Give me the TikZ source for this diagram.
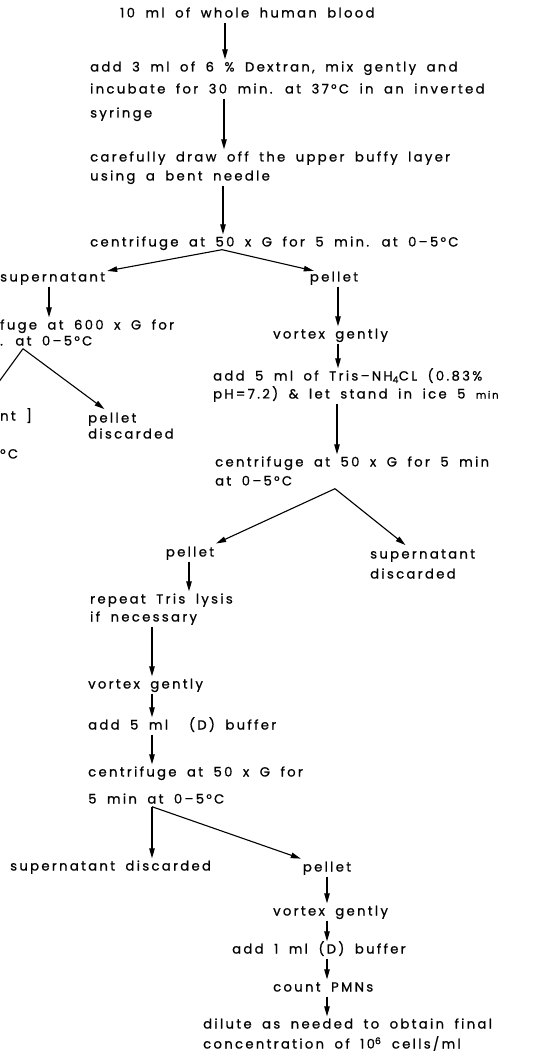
\documentclass[tikz,border=0pt]{standalone}
\usepackage{fontspec}
\setmainfont[LetterSpace=17.5,WordSpace=1.8,FakeBold=0.8]{Poppins}
\usepackage{tikz}
\usetikzlibrary{calc, arrows.meta}

\begin{document}
\begin{tikzpicture}[x=1pt, y=-1pt,
    txt/.style={anchor=west, inner sep=0pt, text height=10pt, text depth=3pt, font=\fontsize{13.2}{14}\selectfont},
    mid/.style={txt, anchor=center},
    arr/.style={-{Triangle[length=10pt,width=5.5pt]}, line width=1.1pt, shorten <=2pt, shorten >=2pt},
    lne/.style={line width=1.1pt}]
\useasboundingbox (0,0) rectangle (555,1056);

% main column
\node[txt] (blood) at (120,14) {10 ml of whole human blood};
\node[txt] (dextran1) at (90,68) {add 3 ml of 6 \% Dextran, mix gently and};
\node[txt] (dextran2) at (90,90) {incubate for 30 min. at 37°C in an inverted};
\node[txt] (dextran3) at (90,114) {syringe};
\node[txt] (buffy1) at (90,158) {carefully draw off the upper buffy layer};
\node[txt] (buffy2) at (90,177) {using a bent needle};
\node[txt] (spinA) at (90,243) {centrifuge at 50 x G for 5 min. at 0–5°C};

\draw[arr] (blood.south -| 225,0) -- (dextran1.north -| 225,0);
\draw[arr] (dextran2.south -| 224,0) -- (buffy1.north -| 224,0);
\draw[arr] (buffy2.south -| 223,0) -- (spinA.north -| 223,0);

% first split
\coordinate (forkA) at (spinA.south -| 222,0);
\node[txt] (supA) at (0,278) {supernatant};
\node[mid] (pelA) at (334,278) {pellet};
\draw[arr, shorten <=0pt] (forkA) -- (supA.north east);
\draw[arr, shorten <=0pt] (forkA) -- ($(pelA.north west)+(6,0)$);

% left branch (cut off)
\node[txt] (spinB1) at (0,326) {fuge at 600 x G for};
\node[txt] (spinB2) at (0,342) {. at 0–5°C};
\draw[arr] (supA.south -| 49,0) -- (spinB1.north -| 49,0);
\coordinate (forkB) at (spinB2.south -| 23,0);
\node[txt] (supB) at (0,417) {nt ]};
\node[txt] (pelB1) at (88,419) {pellet};
\node[txt] (pelB2) at (88,435) {discarded};
\node[txt] (tempB) at (0,455) {°C};
\draw[lne] (forkB) -- ++(-32,44);
\draw[arr, shorten <=0pt] (forkB) -- ($(pelB1.north west)+(18,-2)$);

% right branch
\node[txt] (vortexA) at (273,335) {vortex gently};
\node[txt] (tris1) at (213,377) {add 5 ml of Tris–NH\textsubscript{4}CL (0.83\%};
\node[txt] (tris2) at (213,395) {pH=7.2) \& let stand in ice 5 {\fontsize{10}{11}\selectfont min}};
\node[txt] (spinC1) at (215,463) {centrifuge at 50 x G for 5 min};
\node[txt] (spinC2) at (215,482) {at 0–5°C};
\draw[arr] (pelA.south -| 338,0) -- (vortexA.north -| 338,0);
\draw[arr] (vortexA.south -| 338,0) -- (tris1.north -| 338,0);
\draw[arr] (tris2.south -| 337,0) -- (spinC1.north -| 337,0);

% second split
\coordinate (forkC) at (spinC2.south -| 335,0);
\node[mid] (pelC) at (190,553) {pellet};
\node[txt] (supC1) at (370,555) {supernatant};
\node[txt] (supC2) at (370,575) {discarded};
\draw[arr, shorten <=0pt] (forkC) -- ($(pelC.north east)+(0,-2)$);
\draw[arr, shorten <=0pt] (forkC) -- ($(supC1.north west)+(37,-2)$);

\node[txt] (lysis1) at (90,600) {repeat Tris lysis};
\node[txt] (lysis2) at (90,618) {if necessary};
\node[txt] (vortexB) at (88,685) {vortex gently};
\node[txt] (bufferD) at (88,726) {add 5 ml \ (D) buffer};
\node[txt] (spinD1) at (88,773) {centrifuge at 50 x G for};
\node[txt] (spinD2) at (88,800) {5 min at 0–5°C};
\draw[arr] (pelC.south -| 189,0) -- (lysis1.north -| 189,0);
\draw[arr] (lysis2.south -| 152,0) -- (vortexB.north -| 152,0);
\draw[arr] (vortexB.south -| 152,0) -- (bufferD.north -| 152,0);
\draw[arr] (bufferD.south -| 152,0) -- (spinD1.north -| 152,0);

% third split
\coordinate (forkD) at (spinD2.south -| 152,0);
\node[txt] (supD) at (10,867) {supernatant discarded};
\node[mid] (pelD) at (327,868) {pellet};
\draw[arr, shorten <=0pt] (forkD) -- (supD.north -| forkD);
\draw[arr, shorten <=0pt] (forkD) -- ($(pelD.north west)+(0,-2)$);

% final steps
\node[txt] (vortexC) at (273,912) {vortex gently};
\node[txt] (bufferE) at (232,950) {add 1 ml (D) buffer};
\node[txt] (count) at (273,988) {count PMNs};
\node[txt] (dilute1) at (203,1025) {dilute as needed to obtain final};
\node[txt] (dilute2) at (203,1045) {concentration of 10\textsuperscript{6} cells/ml};
\draw[arr] (pelD.south -| 327,0) -- (vortexC.north -| 327,0);
\draw[arr] (vortexC.south -| 327,0) -- (bufferE.north -| 327,0);
\draw[arr] (bufferE.south -| 327,0) -- (count.north -| 327,0);
\draw[arr] (count.south -| 327,0) -- (dilute1.north -| 327,0);
\end{tikzpicture}
\end{document}
